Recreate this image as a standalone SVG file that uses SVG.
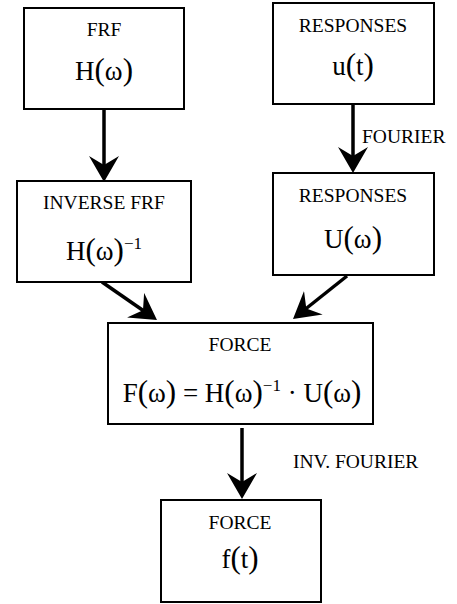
<svg xmlns="http://www.w3.org/2000/svg" width="457" height="604" viewBox="0 0 457 604">
<style>
.box{fill:#fff;stroke:#000;stroke-width:2}
.lbl{font-family:"Liberation Serif","Times New Roman",serif;font-size:19.5px;fill:#000;text-anchor:middle}
.math{font-family:"Liberation Serif","Times New Roman",serif;font-size:27px;fill:#000;text-anchor:middle}
.p{font-size:31px}
.sup{font-size:17px}
.conn{stroke:#000;stroke-width:3.5;fill:none}
</style>
<defs>
<marker id="ah" markerUnits="userSpaceOnUse" markerWidth="26" markerHeight="30" refX="14" refY="15" orient="auto" viewBox="0 0 26 30">
<path d="M26,15 L0,0 L9,15 L0,30 Z" fill="#000"/>
</marker>
</defs>
<g id="connectors">
<line class="conn" x1="104" y1="110" x2="104" y2="170" marker-end="url(#ah)"/>
<line class="conn" x1="353" y1="104" x2="353" y2="161" marker-end="url(#ah)"/>
<line class="conn" x1="102" y1="282" x2="147.1" y2="313.2" marker-end="url(#ah)"/>
<line class="conn" x1="347" y1="276" x2="302.4" y2="311.5" marker-end="url(#ah)"/>
<line class="conn" x1="242" y1="428" x2="242" y2="487" marker-end="url(#ah)"/>
<text class="lbl" x="362" y="143" style="text-anchor:start">FOURIER</text>
<text class="lbl" x="293" y="468" style="text-anchor:start">INV. FOURIER</text>
</g>
<g id="frf">
<rect class="box" x="24" y="8" width="160" height="101"/>
<text class="lbl" x="104" y="36">FRF</text>
<text class="math" x="104" y="80">H<tspan class="p">(</tspan>ω<tspan class="p">)</tspan></text>
</g>
<g id="responses-t">
<rect class="box" x="273" y="3" width="161" height="101"/>
<text class="lbl" x="353" y="32">RESPONSES</text>
<text class="math" x="353" y="75">u<tspan class="p">(</tspan>t<tspan class="p">)</tspan></text>
</g>
<g id="inverse-frf">
<rect class="box" x="17" y="181" width="174" height="101"/>
<text class="lbl" x="104" y="209">INVERSE FRF</text>
<text class="math" x="104" y="260">H<tspan class="p">(</tspan>ω<tspan class="p">)</tspan><tspan class="sup" dy="-11">−1</tspan></text>
</g>
<g id="responses-w">
<rect class="box" x="273" y="173" width="161" height="102"/>
<text class="lbl" x="353" y="202">RESPONSES</text>
<text class="math" x="353" y="248">U<tspan class="p">(</tspan>ω<tspan class="p">)</tspan></text>
</g>
<g id="force-w">
<rect class="box" x="108" y="323" width="265" height="101"/>
<text class="lbl" x="240" y="351">FORCE</text>
<text class="math" x="242" y="402">F<tspan class="p">(</tspan>ω<tspan class="p">)</tspan> = H<tspan class="p">(</tspan>ω<tspan class="p">)</tspan><tspan class="sup" dy="-11">−1</tspan><tspan dy="11"> · U</tspan><tspan class="p">(</tspan>ω<tspan class="p">)</tspan></text>
</g>
<g id="force-t">
<rect class="box" x="161" y="500" width="160" height="102"/>
<text class="lbl" x="240" y="529">FORCE</text>
<text class="math" x="240" y="568">f<tspan class="p">(</tspan>t<tspan class="p">)</tspan></text>
</g>
</svg>
